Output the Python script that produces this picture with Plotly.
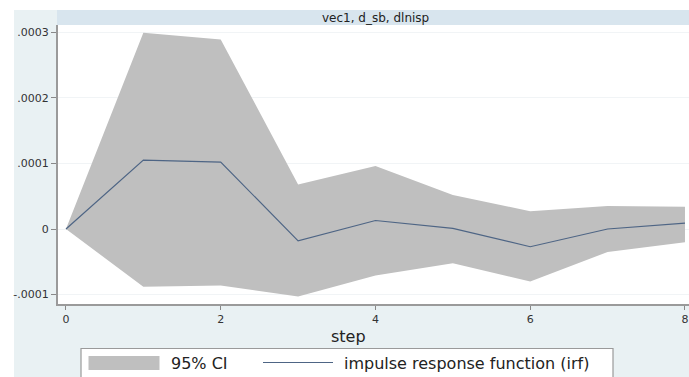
import plotly.graph_objects as go

steps = [0, 1, 2, 3, 4, 5, 6, 7, 8]
irf = [0.0, 1.05e-4, 1.02e-4, -0.18e-4, 0.13e-4, 0.01e-4, -0.27e-4, 0.0, 0.09e-4]
ci_upper = [0.0, 2.99e-4, 2.89e-4, 0.68e-4, 0.96e-4, 0.52e-4, 0.27e-4, 0.35e-4, 0.34e-4]
ci_lower = [0.0, -0.88e-4, -0.86e-4, -1.03e-4, -0.71e-4, -0.52e-4, -0.80e-4, -0.35e-4, -0.20e-4]
ytick_vals = [-1e-4, 0, 1e-4, 2e-4, 3e-4]
ytick_text = ["-.0001", "0", ".0001", ".0002", ".0003"]
xtick_vals = [0, 2, 4, 6, 8]
title_text = "vec1, d_sb, dlnisp"
xlabel = "step"
ci_name = "95% CI"
irf_name = "impulse response function (irf)"

CI_COLOR = "#bfbfbf"
IRF_COLOR = "#4e6585"
FONT = "DejaVu Sans, Verdana, sans-serif"

W, H = 689, 377
L, R, T, B = 58, 0, 25, 73
pw, ph = W - L - R, H - T - B


def px_x(p):
    return (p - L) / pw


def px_y(p):
    return (H - B - p) / ph


fig = go.Figure()
fig.add_trace(go.Scatter(x=steps, y=ci_upper, mode="lines", line=dict(width=0, color=CI_COLOR),
                         showlegend=False, hoverinfo="skip"))
fig.add_trace(go.Scatter(x=steps, y=ci_lower, mode="lines", line=dict(width=0, color=CI_COLOR),
                         fill="tonexty", fillcolor=CI_COLOR, name=ci_name, showlegend=False))
fig.add_trace(go.Scatter(x=steps, y=irf, mode="lines", line=dict(width=1.2, color=IRF_COLOR),
                         name=irf_name, showlegend=False))

shapes = [
    # outer graph region background
    dict(type="rect", xref="paper", yref="paper", x0=px_x(14), x1=px_x(W + 5), y0=px_y(H + 5), y1=px_y(10),
         fillcolor="#e9f1f3", line=dict(width=0), layer="below"),
    # plot region
    dict(type="rect", xref="paper", yref="paper", x0=0, x1=1, y0=0, y1=1,
         fillcolor="white", line=dict(width=0), layer="below"),
    # title strip
    dict(type="rect", xref="paper", yref="paper", x0=px_x(57), x1=px_x(W + 5), y0=1, y1=px_y(10),
         fillcolor="#d8e5ee", line=dict(width=0), layer="below"),
    # legend box
    dict(type="rect", xref="paper", yref="paper", x0=px_x(81), x1=px_x(613), y0=px_y(H + 5), y1=px_y(348.5),
         fillcolor="white", line=dict(width=1.2, color="#9a9a9a")),
    # legend swatch CI
    dict(type="rect", xref="paper", yref="paper", x0=px_x(88.5), x1=px_x(159.5), y0=px_y(370), y1=px_y(356),
         fillcolor=CI_COLOR, line=dict(width=0)),
    # legend line irf
    dict(type="line", xref="paper", yref="paper", x0=px_x(263), x1=px_x(333), y0=px_y(362.5), y1=px_y(362.5),
         line=dict(width=1.2, color=IRF_COLOR)),
]

annotations = [
    dict(text=title_text, xref="paper", yref="paper", x=px_x(375.5), y=px_y(17.5),
         showarrow=False, font=dict(size=12, color="#222222"), xanchor="center", yanchor="middle"),
    dict(text=xlabel, xref="paper", yref="paper", x=px_x(348), y=px_y(337),
         showarrow=False, font=dict(size=16, color="#222222"), xanchor="center", yanchor="middle"),
    dict(text=ci_name, xref="paper", yref="paper", x=px_x(169), y=px_y(363),
         showarrow=False, font=dict(size=16, color="#222222"), xanchor="left", yanchor="middle"),
    dict(text=irf_name, xref="paper", yref="paper", x=px_x(342), y=px_y(363),
         showarrow=False, font=dict(size=16, color="#222222"), xanchor="left", yanchor="middle"),
]

fig.update_layout(
    width=W, height=H,
    margin=dict(l=L, r=R, t=T, b=B, autoexpand=False),
    paper_bgcolor="white", plot_bgcolor="white",
    font=dict(family=FONT, color="#333333"),
    shapes=shapes,
    annotations=annotations,
    xaxis=dict(range=[-0.103, 8.052], tickvals=xtick_vals, ticks="outside", ticklen=4, tickcolor="#888888",
               showgrid=False, zeroline=False, showline=True, linecolor="#9a9a9a", linewidth=2,
               tickfont=dict(size=11)),
    yaxis=dict(range=[-1.143e-4, 3.11e-4], tickvals=ytick_vals, ticktext=ytick_text, ticks="outside",
               ticklen=5, tickcolor="#888888", showgrid=True, gridcolor="#f1f4f6", gridwidth=1,
               zeroline=False, showline=True, linecolor="#9a9a9a", linewidth=2, tickfont=dict(size=11)),
    showlegend=False,
)
fig.write_html("out.html")
